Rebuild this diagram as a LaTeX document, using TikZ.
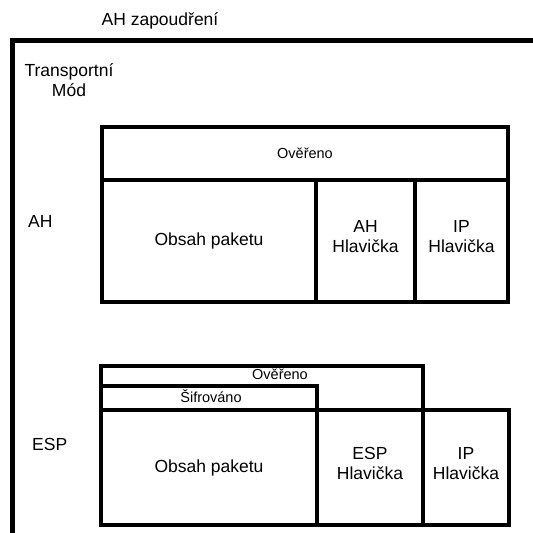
\documentclass[tikz,border=0pt]{standalone}
\usepackage{fontspec}
\setmainfont{Liberation Sans}
\begin{document}
\begin{tikzpicture}[x=1pt,y=-1pt,
  frame/.style={line width=5pt},
  box/.style={draw,line width=4pt},
  big/.style={font=\fontsize{17.5}{20}\selectfont,align=center,inner sep=0pt},
  small/.style={font=\fontsize{14.5}{17}\selectfont,inner sep=0pt}]
\useasboundingbox (0,0) rectangle (533,533);
% title and frame
\node[big,anchor=base] (title) at (160,25) {AH zapoudření};
\coordinate (fc) at (12.5,40);
\coordinate (fr) at (540,40);
\coordinate (fb) at (12.5,540);
\draw[frame] (fr) -- (fc) -- (fb);
\node[big] (mode) at (69,80) {Transportní\\Mód};
% AH section
\node[big,anchor=base west] (ahlab) at (28,227) {AH};
\node[box,minimum width=406pt,minimum height=53pt,anchor=north west] (ahover) at (100,125) {};
\node[small] at (ahover.center) {Ověřeno};
\node[box,minimum width=214pt,minimum height=122pt,anchor=north west] (ahpay) at (100,178) {};
\node[box,minimum width=99pt,minimum height=122pt,anchor=north west] (ahhdr) at (314,178) {};
\node[box,minimum width=93pt,minimum height=122pt,anchor=north west] (ahip) at (413,178) {};
\node[big] at (ahpay.center) {Obsah paketu};
\node[big] at ([yshift=4pt]ahhdr.center) {AH\\Hlavička};
\node[big] at ([yshift=4pt]ahip.center) {IP\\Hlavička};
% ESP section
\node[big,anchor=base west] (esplab) at (32,450) {ESP};
\node[box,minimum width=322pt,minimum height=44pt,anchor=north west] (espover) at (99,364) {};
\node[box,minimum width=216pt,minimum height=24pt,anchor=north west] (espenc) at (99,384) {};
\node[small] at (280,374) {Ověřeno};
\node[small] at (211,396) {Šifrováno};
\node[box,minimum width=216pt,minimum height=115pt,anchor=north west] (esppay) at (99,408) {};
\node[box,minimum width=106pt,minimum height=115pt,anchor=north west] (esphdr) at (315,408) {};
\node[box,minimum width=86pt,minimum height=115pt,anchor=north west] (espip) at (421,408) {};
\node[big] at (esppay.center) {Obsah paketu};
\node[big] at ([yshift=4pt]esphdr.center) {ESP\\Hlavička};
\node[big] at ([yshift=4pt]espip.center) {IP\\Hlavička};
\end{tikzpicture}
\end{document}
